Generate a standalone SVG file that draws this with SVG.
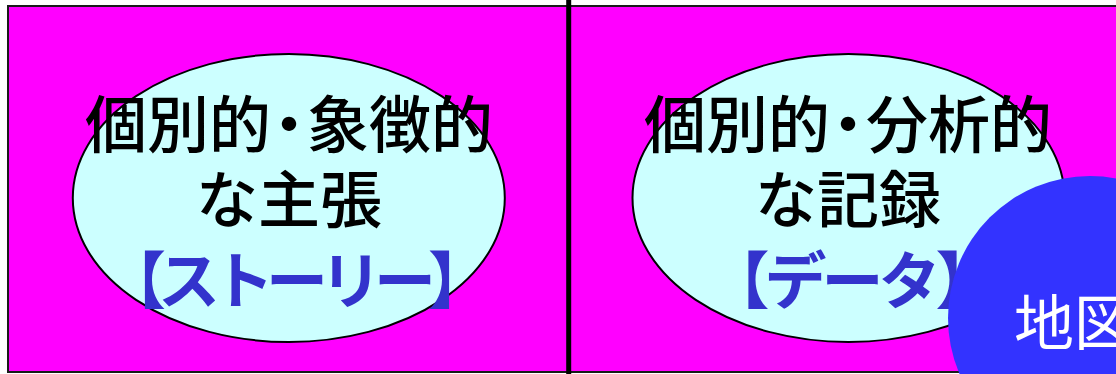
<svg xmlns="http://www.w3.org/2000/svg" width="1116" height="374" viewBox="0 0 1116 374">
<style>
.panel{fill:#FF00FF;stroke:#1a1a1a;stroke-width:2}
.oval{fill:#CCFFFF;stroke:#000;stroke-width:2}
.t{font-family:"Noto Sans CJK JP","Noto Sans CJK SC",sans-serif;font-size:62px;font-weight:500;text-anchor:middle;fill:#000}
.b{font-family:"Noto Sans CJK JP","Noto Sans CJK SC",sans-serif;font-size:62px;font-weight:bold;text-anchor:middle;fill:#3333CC}
.w{font-family:"Noto Sans CJK JP","Noto Sans CJK SC",sans-serif;font-size:60px;fill:#FFFFFF}
</style>
<rect width="1116" height="374" fill="#FFFFFF"/>
<g id="panel-left">
<rect class="panel" x="8" y="6" width="560" height="366"/>
</g>
<g id="panel-right">
<rect class="panel" x="568" y="6" width="560" height="366"/>
</g>
<g id="connectors">
<line x1="568.7" y1="0" x2="568.7" y2="374" stroke="#000" stroke-width="5"/>
</g>
<g id="story">
<ellipse class="oval" cx="288.8" cy="198" rx="216" ry="144"/>
<text class="t" x="289" y="148">個別的<tspan dx="-13">・</tspan><tspan dx="-13">象徴的</tspan></text>
<text class="t" x="289" y="223">な主張</text>
<text class="b" x="293" y="304" letter-spacing="-8">【ストーリー】</text>
</g>
<g id="data">
<ellipse class="oval" cx="848.5" cy="198" rx="216" ry="144"/>
<text class="t" x="848" y="148">個別的<tspan dx="-13">・</tspan><tspan dx="-13">分析的</tspan></text>
<text class="t" x="848" y="223">な記録</text>
<text class="b" x="850" y="304" letter-spacing="-5">【データ】</text>
</g>
<g id="map">
<circle cx="1090" cy="318" r="142" fill="#3333FF"/>
<text class="w" x="1014" y="345">地図</text>
</g>
</svg>
